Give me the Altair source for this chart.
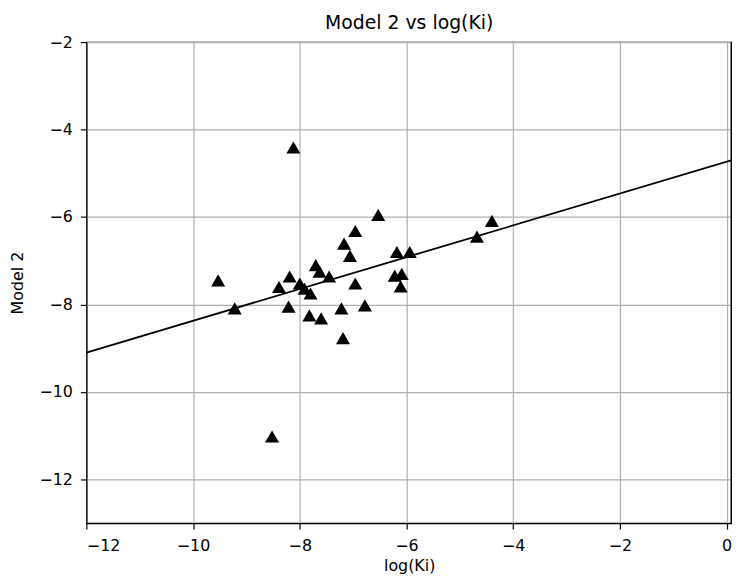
import altair as alt
import pandas as pd

log_ki = [-8.12, -9.53, -9.22, -8.52, -8.39, -8.19, -8.21, -8.0, -7.91, -7.8,
          -7.82, -7.6, -7.7, -7.63, -7.45, -7.22, -7.19, -7.17, -7.06, -6.96,
          -6.96, -6.78, -6.53, -6.18, -5.94, -6.22, -6.09, -6.11, -4.68, -4.4]
model2 = [-4.41, -7.45, -8.09, -11.02, -7.6, -7.36, -8.05, -7.52, -7.64, -7.75,
          -8.25, -8.32, -7.1, -7.25, -7.36, -8.09, -8.77, -6.61, -6.89, -6.32,
          -7.52, -8.02, -5.95, -6.8, -6.8, -7.34, -7.3, -7.59, -6.45, -6.09]

fit_x = [-12.0, 0.1]
fit_y = [-9.1, -4.70]

pts = pd.DataFrame({"x": log_ki, "y": model2})
fit = pd.DataFrame({"x": fit_x, "y": fit_y})

xscale = alt.Scale(domain=[-12, 0.1], nice=False)
yscale = alt.Scale(domain=[-13, -2], nice=False)

xaxis = alt.Axis(title="log(Ki)", values=[-12, -10, -8, -6, -4, -2, 0], format="d",
                 labelPadding=9, titlePadding=4)
yaxis = alt.Axis(title="Model 2", values=[-12, -10, -8, -6, -4, -2], format="d",
                 labelPadding=8, titlePadding=14)

points = alt.Chart(pts).mark_point(shape="triangle-up", filled=True, color="black", size=200, opacity=1).encode(
    x=alt.X("x:Q", scale=xscale, axis=xaxis),
    y=alt.Y("y:Q", scale=yscale, axis=yaxis),
)

line = alt.Chart(fit).mark_line(color="black", strokeWidth=1.8, clip=True).encode(
    x=alt.X("x:Q", scale=xscale),
    y=alt.Y("y:Q", scale=yscale),
)

edge = alt.Chart(pd.DataFrame({"x": [0.1]})).mark_rule(color="black", strokeWidth=3).encode(
    x=alt.X("x:Q", scale=xscale),
)

chart = alt.layer(line, points, edge).properties(
    width=651,
    height=485,
    title=alt.TitleParams("Model 2 vs log(Ki)", fontSize=19, fontWeight="normal", font="DejaVu Sans", color="black", offset=1),
    autosize=alt.AutoSizeParams(type="none"),
    padding={"left": 79, "top": 32, "right": 0, "bottom": 54},
).configure_axis(
    grid=True,
    gridColor="#b0b0b0",
    gridWidth=1.2,
    domainColor="black",
    domainWidth=1.2,
    tickColor="black",
    tickSize=6,
    tickWidth=1.2,
    labelFont="DejaVu Sans",
    labelFontSize=16,
    labelColor="black",
    titleFont="DejaVu Sans",
    titleFontSize=16,
    titleFontWeight="normal",
    titleColor="black",
).configure_view(stroke="black", strokeWidth=1.2)

chart.save("out.html", embed_options={"renderer": "svg", "actions": False})
